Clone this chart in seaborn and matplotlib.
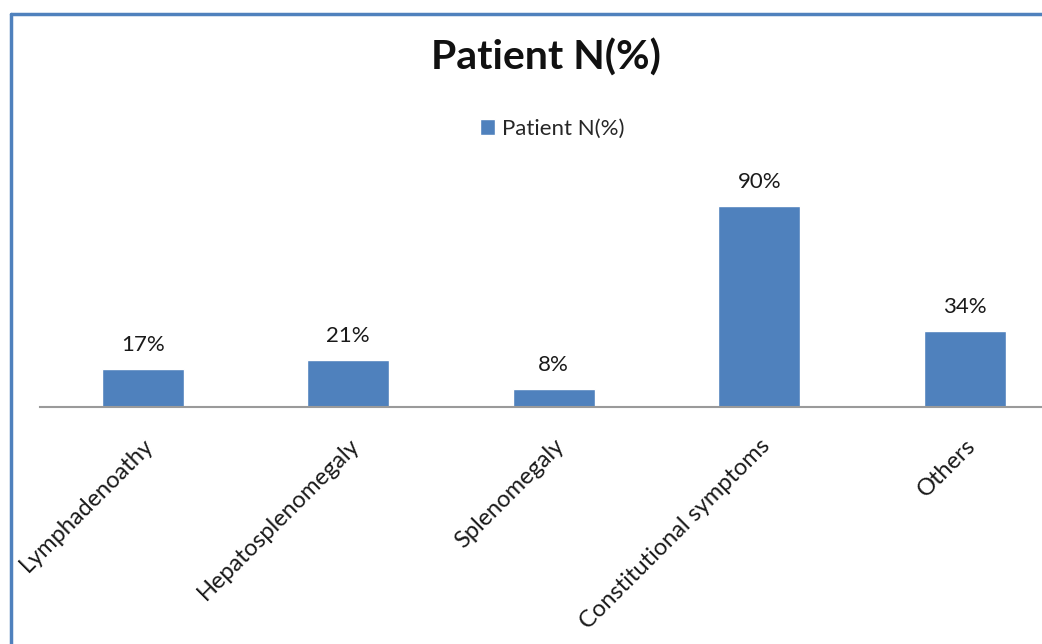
import matplotlib
matplotlib.use("Agg")
import matplotlib.pyplot as plt
import pandas as pd
import seaborn as sns
from matplotlib.lines import Line2D

categories = ["Lymphadenoathy", "Hepatosplenomegaly", "Splenomegaly",
              "Constitutional symptoms", "Others"]
values = [17, 21, 8, 90, 34]
series_name = "Patient N(%)"

BLUE = "#4F81BD"
W, H = 1042, 644

sns.set_theme(style="white")
plt.rcParams["font.family"] = ["Lato", "DejaVu Sans"]

data = pd.DataFrame({"category": categories, "value": values})

fig = plt.figure(figsize=(W / 100, H / 100), dpi=100)
# axes placed in pixel terms; right side runs past the figure edge like the source
left, right, bottom_px, top_px = 40, 1067.5, 407, 184
ax = fig.add_axes([left / W, 1 - bottom_px / H, (right - left) / W, (bottom_px - top_px) / H])

sns.barplot(data=data, x="category", y="value", color=BLUE, width=0.4,
            saturation=1, label=series_name, ax=ax)
ax.set_ylim(0, 100)
ax.set_xlim(-0.5, len(categories) - 0.5)

for c in ax.containers:
    ax.bar_label(c, labels=[f"{v}%" for v in values], padding=10, fontsize=16, color="#1a1a1a")

for s in ["top", "right", "left"]:
    ax.spines[s].set_visible(False)
ax.spines["bottom"].set_color("#9a9a9a")
ax.spines["bottom"].set_linewidth(1.5)
ax.set_yticks([])
ax.set_xlabel("")
ax.set_ylabel("")
ax.tick_params(axis="x", length=0, pad=20)
ax.set_xticks(range(len(categories)))
ax.set_xticklabels(categories, rotation=45, ha="right", rotation_mode="anchor",
                   fontsize=17, color="#1a1a1a")

fig.text(546 / W, 1 - 58 / H, series_name, ha="center", va="center",
         fontsize=29.5, fontweight="bold", color="#111111")

ax.legend(loc="center", bbox_to_anchor=(552 / W, 1 - 129 / H),
          bbox_transform=fig.transFigure, frameon=False, fontsize=16,
          handlelength=0.7, handleheight=0.7, handletextpad=0.3)

# outer chart border (left and top visible)
fig.add_artist(Line2D([10.5 / W, 10.5 / W], [0, 1 - 14 / H], color=BLUE, lw=2.5,
                      transform=fig.transFigure))
fig.add_artist(Line2D([10.5 / W, 1], [1 - 14 / H, 1 - 14 / H], color=BLUE, lw=2.5,
                      transform=fig.transFigure))

fig.savefig("out.png", dpi=100)
